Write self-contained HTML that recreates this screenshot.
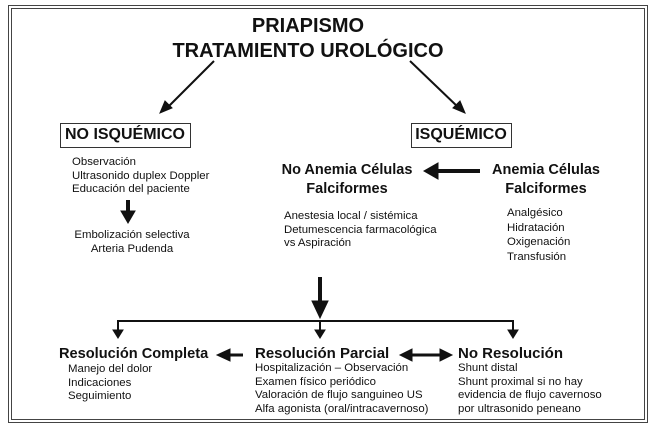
<!DOCTYPE html>
<html><head><meta charset="utf-8"><style>
body{margin:0;width:658px;height:433px;background:#fff;position:relative;overflow:hidden;font-family:"Liberation Sans",Arial,sans-serif;color:#111}
.t{position:absolute;white-space:nowrap}
.c{position:absolute;white-space:nowrap;text-align:center;transform:translateX(-50%)}
.b{font-weight:bold}
.s{font-size:11.4px;line-height:13.5px}
</style></head><body>
<div style="position:absolute;left:8px;top:5px;width:638px;height:416px;border:1px solid #444"></div>
<div style="position:absolute;left:11px;top:8px;width:632px;height:410px;border:1px solid #444"></div>
<svg width="658" height="433" style="position:absolute;left:0;top:0">
<g stroke="#111" fill="#111">
<line x1="214" y1="61" x2="166" y2="109" stroke-width="2"/><path d="M160,113L165,101L172,108z"/>
<line x1="410" y1="61" x2="459" y2="108" stroke-width="2"/><path d="M465,113L453,108L460,101z"/>
<line x1="128" y1="200" x2="128" y2="212" stroke-width="4"/><path d="M121,211L135,211L128,223z"/>
<line x1="480" y1="171" x2="438" y2="171" stroke-width="4"/><path d="M438,163L438,179L424,171z"/>
<line x1="320" y1="277" x2="320" y2="302" stroke-width="4"/><path d="M312,301L328,301L320,318z"/>
<line x1="117" y1="321" x2="514" y2="321" stroke-width="2"/>
<line x1="118" y1="321" x2="118" y2="331" stroke-width="2"/><path d="M113,330L123,330L118,338z"/>
<line x1="320" y1="321" x2="320" y2="331" stroke-width="2"/><path d="M315,330L325,330L320,338z"/>
<line x1="513" y1="321" x2="513" y2="331" stroke-width="2"/><path d="M508,330L518,330L513,338z"/>
<line x1="243" y1="355" x2="228" y2="355" stroke-width="3"/><path d="M230,349L230,361L217,355z"/>
<line x1="410" y1="355" x2="442" y2="355" stroke-width="3"/><path d="M412,349L412,361L400,355z"/><path d="M440,349L440,361L452,355z"/>
</g>
</svg>
<div class="c b" style="left:308px;top:15px;font-size:20px">PRIAPISMO</div>
<div class="c b" style="left:308px;top:40px;font-size:20px">TRATAMIENTO UROLÓGICO</div>
<div style="position:absolute;left:60px;top:123px;width:129px;height:23px;border:1px solid #333"></div>
<div class="c b" style="left:125px;top:126px;font-size:16px">NO ISQUÉMICO</div>
<div style="position:absolute;left:411px;top:123px;width:99px;height:23px;border:1px solid #333"></div>
<div class="c b" style="left:461px;top:126px;font-size:16px">ISQUÉMICO</div>
<div class="t s" style="left:72px;top:156px">Observación<br>Ultrasonido duplex Doppler<br>Educación del paciente</div>
<div class="c s" style="left:132px;top:229px">Embolización selectiva<br>Arteria Pudenda</div>
<div class="c b" style="left:347px;top:161px;font-size:14.5px;line-height:19px">No Anemia Células<br>Falciformes</div>
<div class="c b" style="left:546px;top:161px;font-size:14.5px;line-height:19px">Anemia Células<br>Falciformes</div>
<div class="t s" style="left:284px;top:210px">Anestesia local / sistémica<br>Detumescencia farmacológica<br>vs Aspiración</div>
<div class="t s" style="left:507px;top:206px;line-height:14.5px">Analgésico<br>Hidratación<br>Oxigenación<br>Transfusión</div>
<div class="t b" style="left:59px;top:346px;font-size:14.6px">Resolución Completa</div>
<div class="t b" style="left:255px;top:345px;font-size:15px">Resolución Parcial</div>
<div class="t b" style="left:458px;top:345px;font-size:15px">No Resolución</div>
<div class="t s" style="left:68px;top:363px">Manejo del dolor<br>Indicaciones<br>Seguimiento</div>
<div class="t s" style="left:255px;top:362px">Hospitalización – Observación<br>Examen físico periódico<br>Valoración de flujo sanguineo US<br>Alfa agonista (oral/intracavernoso)</div>
<div class="t s" style="left:458px;top:362px">Shunt distal<br>Shunt proximal si no hay<br>evidencia de flujo cavernoso<br>por ultrasonido peneano</div>
</body></html>
